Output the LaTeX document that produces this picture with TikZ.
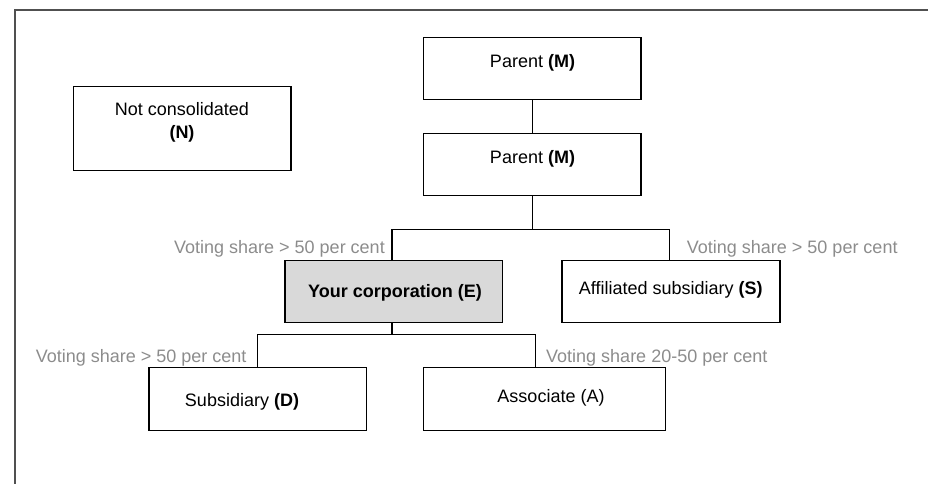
\documentclass[tikz,border=0pt]{standalone}
\usepackage{fontspec}
\setmainfont{Liberation Sans}
\definecolor{framegray}{HTML}{505050}
\definecolor{labelgray}{HTML}{8C8C8C}
\definecolor{efill}{HTML}{D9D9D9}
\begin{document}
\begin{tikzpicture}[x=1pt,y=-1pt,
  box/.style={draw=black,line width=1.4pt,rectangle,inner sep=0pt,minimum height=62pt},
  txt/.style={inner sep=0pt,anchor=base,font=\fontsize{18}{23.3}\selectfont,text=black},
  vlabel/.style={inner sep=0pt,font=\fontsize{18}{21.6}\selectfont,text=labelgray},
  conn/.style={draw=black,line width=1.3pt}]
\useasboundingbox (0,0) rectangle (928,483);
% outer frame
\coordinate (fbl) at (14.7,484);
\coordinate (ftl) at (14.7,10);
\coordinate (ftr) at (929,10);
\draw[framegray,line width=1.7pt] (fbl) -- (ftl) -- (ftr);
% boxes
\node[box,minimum width=217.7pt,minimum height=83.6pt] (n) at (182.2,128.5) {};
\node[box,minimum width=217.7pt] (p1) at (532.2,68.7) {};
\node[box,minimum width=217.7pt] (p2) at (532.2,164.3) {};
\node[box,minimum width=217.7pt,fill=efill] (e) at (393.8,291.7) {};
\node[box,minimum width=218pt] (s) at (671,291.7) {};
\node[box,minimum width=217.7pt,minimum height=63pt] (d) at (257.8,399.2) {};
\node[box,minimum width=242.4pt,minimum height=63pt] (a) at (544.5,399.2) {};
% box texts
\node[txt,anchor=north,align=center] (nt) at (182,102.1) {Not consolidated\\\textbf{(N)}};
\node[txt] (p1t) at (532.5,67.5) {Parent \textbf{(M)}};
\node[txt] (p2t) at (532.5,163.1) {Parent \textbf{(M)}};
\node[txt] (et) at (395,297.3) {\textbf{Your corporation (E)}};
\node[txt] (st) at (670.8,294) {Affiliated subsidiary \textbf{(S)}};
\node[txt] (dt) at (242,406.7) {Subsidiary \textbf{(D)}};
\node[txt] (at) at (551,402.7) {Associate (A)};
% connectors
\coordinate (j1) at (532.7,229.3);
\coordinate (j1l) at (392,229.3);
\coordinate (j1r) at (669.7,229.3);
\coordinate (j2) at (392,334.3);
\coordinate (j2l) at (257.3,334.3);
\coordinate (j2r) at (535.3,334.3);
\draw[conn] (p1.south -| j1) -- (p2.north -| j1);
\draw[conn] (p2.south -| j1) -- (j1);
\draw[conn] (j1l |- e.north) -- (j1l) -- (j1r) -- (j1r |- s.north);
\draw[conn] (e.south -| j2) -- (j2);
\draw[conn] (j2l |- d.north) -- (j2l) -- (j2r) -- (j2r |- a.north);
% labels
\node[vlabel,anchor=base east] (l1) at (385,253.5) {Voting share > 50 per cent};
\node[vlabel,anchor=base west] (l2) at (686.7,253.5) {Voting share > 50 per cent};
\node[vlabel,anchor=base east] (l3) at (246.7,362.5) {Voting share > 50 per cent};
\node[vlabel,anchor=base west] (l4) at (546,362.5) {Voting share 20-50 per cent};
\end{tikzpicture}
\end{document}
